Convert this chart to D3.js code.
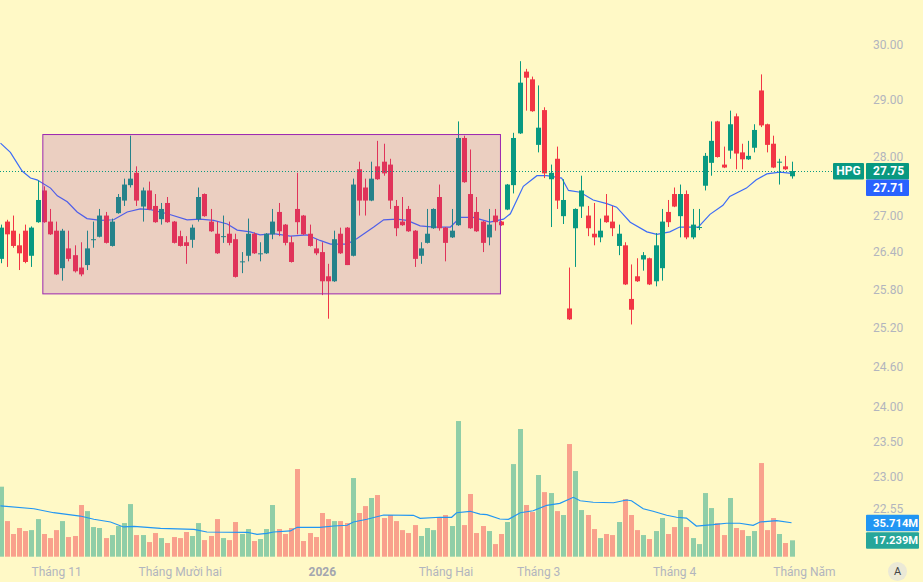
<!DOCTYPE html>
<html>
<head>
<meta charset="utf-8">
<script src="https://cdn.jsdelivr.net/npm/d3@7"></script>
<style>
    html, body { margin: 0; padding: 0; background: #fff9c6; }
    svg { display: block; font-family: Roboto, "Trebuchet MS", sans-serif; }
</style>
</head>
<body>
<div class="graph"></div>
<script>
// daily candles, [open, high, low, close]
const candles = [
    [26.29, 26.85, 26.22, 26.80], [26.90, 26.93, 26.16, 26.69], [26.75, 27.00, 26.47, 26.50], [26.51, 26.70, 26.11, 26.38],
    [26.75, 26.85, 26.22, 26.24], [26.34, 26.82, 26.16, 26.80], [26.89, 27.59, 26.88, 27.26], [27.42, 27.49, 26.88, 26.89],
    [26.90, 27.11, 26.68, 26.69], [26.75, 26.90, 26.03, 26.04], [26.14, 26.78, 25.94, 26.75], [26.46, 26.75, 26.25, 26.29],
    [26.35, 26.51, 26.07, 26.09], [26.15, 26.56, 26.01, 26.04], [26.19, 26.75, 26.11, 26.46], [26.60, 26.90, 26.47, 26.61],
    [26.65, 27.11, 26.64, 27.00], [27.00, 27.06, 26.54, 26.55], [26.50, 26.95, 26.49, 26.90], [27.04, 27.36, 27.03, 27.31],
    [27.25, 27.62, 27.16, 27.52], [27.51, 28.36, 27.47, 27.62], [27.72, 27.83, 27.16, 27.25], [27.15, 27.47, 26.90, 27.42],
    [27.42, 27.57, 27.09, 27.10], [27.16, 27.36, 26.88, 26.89], [26.94, 27.21, 26.85, 27.11], [27.21, 27.31, 26.88, 26.89],
    [26.90, 26.91, 26.54, 26.55], [26.66, 26.75, 26.49, 26.50], [26.56, 26.66, 26.21, 26.50], [26.60, 26.85, 26.47, 26.80],
    [26.94, 27.47, 26.90, 27.31], [27.36, 27.37, 26.98, 26.99], [26.90, 27.11, 26.73, 26.74], [26.70, 26.90, 26.37, 26.38],
    [26.65, 27.00, 26.55, 26.66], [26.70, 26.90, 26.51, 26.55], [26.61, 26.70, 25.99, 26.00], [26.24, 26.40, 26.06, 26.25],
    [26.34, 26.95, 26.25, 26.70], [26.70, 26.72, 26.37, 26.38], [26.37, 26.56, 26.25, 26.38], [26.38, 26.71, 26.37, 26.70],
    [26.69, 27.11, 26.61, 26.90], [27.06, 27.21, 26.66, 26.74], [26.85, 26.86, 26.51, 26.55], [26.56, 26.66, 26.23, 26.24],
    [27.11, 27.72, 26.69, 26.89], [27.00, 27.01, 26.68, 26.69], [26.70, 26.85, 26.49, 26.50], [26.46, 26.61, 26.35, 26.38],
    [26.40, 26.56, 25.71, 25.93], [26.01, 26.21, 25.34, 25.93], [25.93, 26.75, 25.92, 26.61], [26.70, 26.80, 26.37, 26.38],
    [26.80, 26.81, 26.19, 26.19], [26.34, 27.62, 26.33, 27.52], [27.78, 27.91, 27.00, 27.25], [27.47, 27.62, 27.00, 27.25],
    [27.25, 27.91, 27.24, 27.62], [27.83, 28.27, 27.60, 27.61], [27.91, 28.22, 27.67, 27.71], [27.86, 27.96, 27.11, 27.25],
    [27.16, 27.26, 26.66, 26.79], [26.90, 27.31, 26.83, 26.84], [27.11, 27.16, 26.73, 26.74], [26.75, 26.76, 26.16, 26.29],
    [26.34, 26.56, 26.21, 26.46], [26.55, 27.11, 26.54, 26.70], [26.79, 27.12, 26.78, 27.11], [27.31, 27.52, 26.75, 26.79],
    [26.80, 26.81, 26.25, 26.55], [26.64, 27.11, 26.63, 26.75], [26.84, 28.61, 26.83, 28.32], [28.32, 28.36, 27.55, 27.56],
    [27.36, 28.12, 26.78, 26.79], [27.06, 27.31, 26.73, 26.74], [26.90, 26.91, 26.40, 26.55], [26.64, 27.11, 26.51, 26.85],
    [27.00, 27.11, 26.75, 26.89], [26.90, 26.91, 26.83, 26.84], [27.10, 27.53, 27.09, 27.52], [27.51, 28.41, 27.37, 28.32],
    [28.40, 29.69, 28.39, 29.30], [29.50, 29.55, 28.80, 29.39], [29.36, 29.41, 28.78, 28.79], [28.20, 29.25, 28.07, 28.50],
    [28.81, 28.86, 27.63, 27.71], [27.61, 27.86, 26.81, 27.72], [27.96, 28.17, 27.11, 27.25], [26.99, 27.61, 26.86, 27.26],
    [25.50, 26.15, 25.32, 25.33], [26.79, 27.12, 26.16, 27.11], [27.15, 27.67, 26.96, 27.42], [27.00, 27.16, 26.66, 26.79],
    [26.70, 27.21, 26.51, 26.64], [26.64, 26.95, 26.56, 26.75], [27.00, 27.36, 26.88, 26.89], [26.90, 27.16, 26.66, 26.79],
    [26.50, 26.85, 26.35, 26.70], [26.51, 26.56, 25.87, 25.88], [25.65, 26.20, 25.25, 25.48], [26.01, 26.30, 25.92, 25.93],
    [26.28, 26.40, 26.10, 26.35], [26.30, 26.31, 25.87, 25.88], [25.93, 26.71, 25.85, 26.51], [26.14, 27.11, 25.94, 26.90],
    [27.06, 27.26, 26.81, 26.89], [27.36, 27.47, 27.14, 27.15], [26.99, 27.52, 26.64, 27.36], [27.36, 27.42, 26.61, 26.64],
    [26.64, 27.11, 26.61, 26.85], [26.80, 27.11, 26.76, 26.81], [27.50, 28.06, 27.42, 28.01], [27.89, 28.61, 27.67, 28.27],
    [28.61, 28.62, 27.98, 27.99], [27.86, 28.17, 27.80, 27.81], [28.10, 28.80, 27.96, 28.56], [28.70, 28.75, 27.78, 28.05],
    [28.07, 28.22, 27.78, 27.95], [27.95, 28.27, 27.94, 28.01], [28.15, 28.56, 28.07, 28.46], [29.16, 29.45, 28.51, 28.54],
    [28.56, 28.57, 28.07, 28.20], [28.22, 28.36, 27.80, 27.81], [27.90, 27.96, 27.52, 27.91], [27.83, 28.01, 27.77, 27.78],
    [27.66, 27.91, 27.62, 27.75]
];

// volume, millions of shares
const volumes = [
    73.7, 37.5, 23.9, 30.2, 27.0, 28.0, 39.6, 23.9, 19.6, 28.0, 37.5, 20.7, 21.8, 54.4, 48.0, 31.2,
    30.2, 19.6, 22.8, 32.3, 35.4, 55.4, 22.8, 22.8, 15.4, 24.9, 19.6, 14.4, 20.7, 19.6, 26.0, 21.8,
    35.4, 17.5, 21.8, 39.6, 19.6, 17.5, 36.5, 23.9, 29.1, 16.5, 18.6, 29.1, 54.4, 29.1, 23.9, 30.2,
    92.3, 16.5, 24.9, 20.7, 46.0, 39.6, 37.5, 37.5, 35.4, 82.8, 46.0, 53.3, 61.8, 64.9, 40.7, 43.9,
    37.5, 28.0, 24.9, 33.3, 21.8, 30.2, 28.0, 41.8, 43.9, 32.3, 142.8, 33.3, 66.0, 24.9, 32.3, 27.0,
    13.3, 23.9, 36.5, 97.5, 134.4, 54.4, 47.0, 86.0, 68.0, 67.0, 48.0, 43.9, 118.6, 90.2, 49.1, 43.9,
    29.1, 19.6, 23.9, 22.8, 36.5, 60.7, 43.9, 28.0, 22.8, 18.6, 27.0, 40.7, 23.9, 31.2, 49.1, 31.2,
    19.6, 13.3, 67.0, 51.2, 35.4, 22.8, 61.8, 30.2, 28.0, 21.8, 27.0, 98.6, 28.0, 40.7, 23.9, 14.4,
    17.239
];

// moving average, [candle index, value]
const priceMA = [
    [0, 28.23], [1.6, 28.07], [3.5, 27.75], [4.85, 27.63], [5.9, 27.60], [8.1, 27.46], [9.2, 27.33], [10.8, 27.23],
    [12.4, 27.06], [14, 26.95], [16.2, 26.92], [18.3, 26.93], [20.5, 27.06], [22.6, 27.11], [24.3, 27.10], [27, 27.03],
    [30.2, 26.93], [32.3, 26.94], [34.5, 26.92], [36.7, 26.86], [38.3, 26.76], [40.4, 26.73], [42, 26.68], [44.2, 26.70],
    [46.9, 26.66], [49.6, 26.68], [51.7, 26.59], [53.4, 26.53], [56.1, 26.53], [57.7, 26.62], [60.4, 26.81], [62, 26.93],
    [64.1, 26.94], [65.8, 26.92], [67.9, 26.83], [70.1, 26.81], [72.8, 26.81], [74.4, 26.97], [76.5, 26.97], [79.2, 26.89],
    [81.4, 26.94], [82.5, 27.03], [84.6, 27.49], [86.8, 27.67], [88.4, 27.67], [90.8, 27.63], [91.9, 27.42], [93.8, 27.39],
    [95.9, 27.26], [98.1, 27.20], [99.7, 27.14], [101.9, 26.89], [104.6, 26.73], [106.2, 26.69], [108.3, 26.73], [109.9, 26.81],
    [112.9, 26.81], [114.8, 27.02], [116.9, 27.17], [118, 27.32], [120.7, 27.46], [122.3, 27.60], [124, 27.70], [126.1, 27.73],
    [128, 27.71]
];

const volumeMA = [
    [0, 53.4], [5.4, 50.5], [8.6, 46.3], [12.9, 42.8], [15.1, 39.4], [17.8, 36.5], [19.9, 31.3], [21.6, 32.0],
    [25.9, 29.9], [31.3, 28.8], [33.4, 26.0], [39.9, 25.7], [41.5, 23.6], [43.1, 24.6], [44.2, 26.0], [46.9, 27.1],
    [48, 30.9], [51.7, 30.9], [53.9, 32.3], [56.1, 33.1], [57.1, 36.5], [59.3, 39.4], [62, 43.9], [66.8, 43.6],
    [67.9, 40.4], [71.1, 41.5], [73, 41.5], [73.8, 46.3], [76, 47.8], [77.6, 44.9], [78.7, 44.2], [80.8, 39.7],
    [82.2, 39.4], [84.1, 46.3], [86.2, 48.4], [88.4, 54.1], [90.5, 56.2], [92.7, 62.5], [93.8, 58.9], [95.9, 57.3],
    [99.2, 56.8], [101.3, 59.7], [102.1, 58.9], [104, 50.5], [105.6, 47.8], [107.8, 43.6], [109.4, 41.5], [111, 40.7],
    [112.6, 32.3], [115.3, 33.7], [117.5, 35.2], [119.6, 35.2], [121.8, 33.1], [122.9, 36.5], [125.6, 37.9], [128, 35.714]
];

const priceTicks = [30, 29, 28, 27, 26.4, 25.8, 25.2, 24.6, 24, 23.5, 23, 22.55];
const timeTicks = [9, 29, 52, 72, 87, 109, 130];
const timeLabels = ["Tháng 11", "Tháng Mười hai", "2026", "Tháng Hai", "Tháng 3", "Tháng 4", "Tháng Năm"];
const symbol = "HPG";
// rectangle drawn on the chart: candle index range and price range
const zone = { from: 6.85, to: 80.9, top: 28.38, bottom: 25.73 };

const width = 923, height = 582;
const up = "#089981", down = "#f23645";

const svg = d3.select(".graph").append("svg")
    .attr("width", width)
    .attr("height", height);

svg.append("rect").attr("width", width).attr("height", height).attr("fill", "#fff9c6");

const x = d3.scaleLinear().domain([0, candles.length - 1]).range([0.5, 0.5 + 6.18 * (candles.length - 1)]);
const y = d3.scaleLog().domain([30, 22.55]).range([44.3, 508.3]);
const v = d3.scaleLinear().domain([0, 160]).range([556.7, 556.7 - 152]);

const cx = i => Math.round(x(i)) + 0.5;
const isUp = d => d[3] >= d[0];

svg.append("clipPath").attr("id", "plot")
    .append("rect").attr("x", 0).attr("y", 0).attr("width", 834).attr("height", 560);

const plot = svg.append("g").attr("clip-path", "url(#plot)");

// volume bars
plot.append("g").selectAll("rect")
    .data(volumes)
    .join("rect")
    .attr("x", (d, i) => cx(i) - 2.5)
    .attr("width", 5)
    .attr("y", d => v(d))
    .attr("height", d => v(0) - v(d))
    .attr("fill", (d, i) => isUp(candles[i]) ? up : down)
    .attr("fill-opacity", 0.45);

plot.append("path")
    .datum(volumeMA)
    .attr("fill", "none")
    .attr("stroke", "#2196f3")
    .attr("stroke-width", 1.2)
    .attr("d", d3.line().x(d => x(d[0])).y(d => v(d[1])));

// price moving average
plot.append("path")
    .datum(priceMA)
    .attr("fill", "none")
    .attr("stroke", "#3d6cf7")
    .attr("stroke-width", 1.2)
    .attr("d", d3.line().x(d => x(d[0])).y(d => y(d[1])));

// candles
const c = plot.append("g").selectAll("g")
    .data(candles)
    .join("g")
    .attr("fill", d => isUp(d) ? up : down)
    .attr("stroke", d => isUp(d) ? up : down);

c.append("line")
    .attr("x1", (d, i) => cx(i)).attr("x2", (d, i) => cx(i))
    .attr("y1", d => y(d[1])).attr("y2", d => y(d[2]))
    .attr("stroke-width", 1);

c.append("rect")
    .attr("stroke", "none")
    .attr("x", (d, i) => cx(i) - 2.5)
    .attr("width", 5)
    .attr("y", d => y(Math.max(d[0], d[3])))
    .attr("height", d => Math.max(1, Math.abs(y(d[0]) - y(d[3]))));

// rectangle drawing
plot.append("rect")
    .attr("x", x(zone.from))
    .attr("y", y(zone.top))
    .attr("width", x(zone.to) - x(zone.from))
    .attr("height", y(zone.bottom) - y(zone.top))
    .attr("fill", "rgba(156,39,176,0.2)")
    .attr("stroke", "#9c27b0")
    .attr("stroke-width", 1);

// last price line
const last = candles[candles.length - 1];
const lastY = Math.round(y(last[3])) + 0.5;
plot.append("line")
    .attr("x1", 0).attr("x2", 834)
    .attr("y1", lastY).attr("y2", lastY)
    .attr("stroke", up)
    .attr("stroke-dasharray", "1,2");

// price axis
const yAxis = svg.append("g")
    .attr("transform", "translate(873,0)")
    .call(d3.axisRight(y).tickValues(priceTicks).tickFormat(d3.format(".2f")).tickSize(0).tickPadding(0));
yAxis.select(".domain").remove();
yAxis.selectAll("text").attr("fill", "#b2b5be").style("font-size", "12px").style("font-family", "Roboto, sans-serif");

// time axis
const xAxis = svg.append("g")
    .attr("transform", "translate(0,567)")
    .call(d3.axisBottom(x).tickValues(timeTicks).tickFormat((d, i) => timeLabels[i]).tickSize(0).tickPadding(0));
xAxis.select(".domain").remove();
xAxis.selectAll("text")
    .attr("fill", (d, i) => timeLabels[i] === "2026" ? "#a3a6af" : "#b2b5be")
    .style("font-size", "12px")
    .style("font-weight", (d, i) => timeLabels[i] === "2026" ? "bold" : "normal")
    .style("font-family", "Roboto, sans-serif");

// value labels on the right
function tag(x0, w, yc, fill, text, size) {
    svg.append("rect")
        .attr("x", x0).attr("y", yc - 8).attr("width", w).attr("height", 16.5)
        .attr("rx", 1)
        .attr("fill", fill);
    svg.append("text")
        .attr("x", x0 + (x0 > 865 ? 7 : w / 2))
        .attr("y", yc)
        .attr("dy", "0.35em")
        .attr("text-anchor", x0 > 865 ? "start" : "middle")
        .attr("fill", "#fff")
        .style("font-size", size + "px")
        .style("font-weight", "bold")
        .text(text);
}

const lastMA = priceMA[priceMA.length - 1][1];
const lastVolMA = volumeMA[volumeMA.length - 1][1];
const lastVol = volumes[volumes.length - 1];

const yp = y(last[3]);
tag(833, 31, yp, up, symbol, 12);
tag(866, 43, yp, up, last[3].toFixed(2), 12);
tag(866, 43, Math.max(y(lastMA), yp + 16.5), "#2962ff", lastMA.toFixed(2), 12);
tag(866, 53, v(lastVolMA), "#2196f3", lastVolMA.toFixed(3) + "M", 11.2);
tag(866, 53, Math.max(v(lastVol), v(lastVolMA) + 17), "#26a69a", lastVol.toFixed(3) + "M", 11.2);

// auto-scale button
svg.append("circle").attr("cx", 897.5).attr("cy", 571.5).attr("r", 9.5).attr("fill", "#ebe9d6");
svg.append("text")
    .attr("x", 897.5).attr("y", 571.5).attr("dy", "0.35em")
    .attr("text-anchor", "middle")
    .attr("fill", "#444")
    .style("font-size", "11px")
    .text("A");
</script>
</body>
</html>
